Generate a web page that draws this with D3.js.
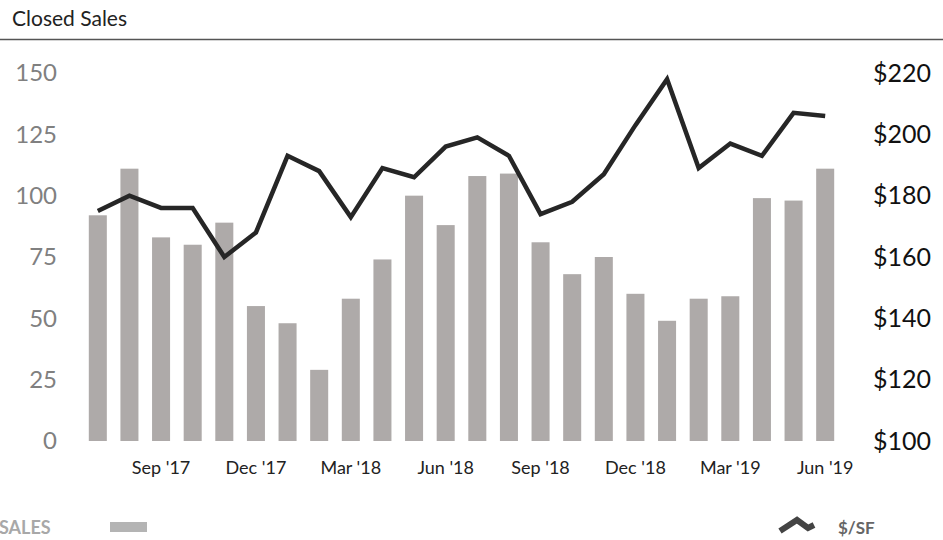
<!DOCTYPE html>
<html>
<head>
<meta charset="utf-8">
<script src="https://cdn.jsdelivr.net/npm/d3@7"></script>
<style>
  body { margin: 0; background: #fff; }
  svg { font-family: Lato, "Open Sans", sans-serif; display: block; }
</style>
</head>
<body>
<svg id="chart" width="943" height="540"></svg>
<script>
const months = ["Jul '17", "Aug '17", "Sep '17", "Oct '17", "Nov '17", "Dec '17",
                "Jan '18", "Feb '18", "Mar '18", "Apr '18", "May '18", "Jun '18",
                "Jul '18", "Aug '18", "Sep '18", "Oct '18", "Nov '18", "Dec '18",
                "Jan '19", "Feb '19", "Mar '19", "Apr '19", "May '19", "Jun '19"];
const closedSales = [92, 111, 83, 80, 89, 55, 48, 29, 58, 74, 100, 88,
                     108, 109, 81, 68, 75, 60, 49, 58, 59, 99, 98, 111];
const pricePerSF = [175, 180, 176, 176, 160, 168, 193, 188, 173, 189, 186, 196,
                    199, 193, 174, 178, 187, 203, 218, 189, 197, 193, 207, 206];
const tickMonths = ["Sep '17", "Dec '17", "Mar '18", "Jun '18",
                    "Sep '18", "Dec '18", "Mar '19", "Jun '19"];
const salesTicks = [0, 25, 50, 75, 100, 125, 150];
const priceTicks = [100, 120, 140, 160, 180, 200, 220];

const svg = d3.select('#chart');
const barColor = '#aeaaa9',
      lineColor = '#262626';

// title + rule
svg.append('text')
  .attr('x', 12).attr('y', 26)
  .attr('font-size', 21).attr('fill', '#222')
  .text('Closed Sales');
svg.append('line')
  .attr('x1', 0).attr('x2', 943)
  .attr('y1', 39.5).attr('y2', 39.5)
  .attr('stroke', '#555').attr('stroke-width', 1.5);

const x = d3.scaleBand()
  .domain(months)
  .range([82, 841])
  .paddingInner(0.43)
  .paddingOuter(0.215);

const y = d3.scaleLinear().domain([0, 150]).range([441, 73]);
const y2 = d3.scaleLinear().domain([100, 220]).range([441, 73]);

// bars
svg.append('g')
  .selectAll('rect')
  .data(closedSales)
  .enter()
  .append('rect')
  .attr('x', (d, i) => x(months[i]))
  .attr('y', d => y(d))
  .attr('width', x.bandwidth())
  .attr('height', d => y(0) - y(d))
  .attr('fill', barColor);

// price line
const line = d3.line()
  .x((d, i) => x(months[i]) + x.bandwidth() / 2)
  .y(d => y2(d));

svg.append('path')
  .datum(pricePerSF)
  .attr('d', line)
  .attr('fill', 'none')
  .attr('stroke', lineColor)
  .attr('stroke-width', 4.5)
  .attr('stroke-linejoin', 'miter');

// axes
const leftAxis = svg.append('g')
  .attr('transform', 'translate(60,0)')
  .call(d3.axisLeft(y).tickValues(salesTicks).tickSize(0).tickPadding(3));
leftAxis.select('.domain').remove();
leftAxis.selectAll('text')
  .attr('font-size', 24).attr('fill', '#808080')
  .attr('font-family', 'Lato, sans-serif');

const rightAxis = svg.append('g')
  .attr('transform', 'translate(870,0)')
  .call(d3.axisRight(y2).tickValues(priceTicks).tickSize(0).tickPadding(3)
    .tickFormat(d => '$' + d));
rightAxis.select('.domain').remove();
rightAxis.selectAll('text')
  .attr('font-size', 25).attr('fill', '#111')
  .attr('font-family', 'Lato, sans-serif');

const bottomAxis = svg.append('g')
  .attr('transform', 'translate(0,452)')
  .call(d3.axisBottom(x).tickValues(tickMonths).tickSize(0).tickPadding(9));
bottomAxis.select('.domain').remove();
bottomAxis.selectAll('text')
  .attr('font-size', 18).attr('fill', '#222')
  .attr('font-family', 'Lato, sans-serif');

// legend
svg.append('text')
  .attr('x', -1).attr('y', 534)
  .attr('font-size', 18).attr('font-weight', 'bold')
  .attr('fill', '#a8a8a8')
  .text('SALES');
svg.append('rect')
  .attr('x', 110).attr('y', 522)
  .attr('width', 37).attr('height', 10)
  .attr('fill', '#b4b4b4');

svg.append('path')
  .attr('d', 'M780,531 L797,520 L808,528 L814,525')
  .attr('fill', 'none')
  .attr('stroke', '#444')
  .attr('stroke-width', 6);
svg.append('text')
  .attr('x', 838).attr('y', 534)
  .attr('font-size', 17).attr('font-weight', 'bold')
  .attr('fill', '#666')
  .text('$/SF');
</script>
</body>
</html>
